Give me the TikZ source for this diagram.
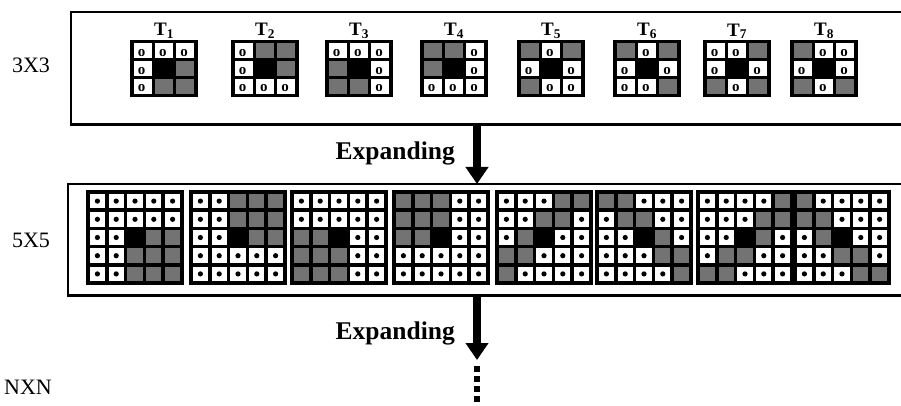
\documentclass[tikz,border=0pt]{standalone}
\usepackage{fontspec}
\setmainfont{Liberation Serif}
\usetikzlibrary{arrows.meta,positioning}

\tikzset{
  boxline/.style={line width=2.5pt},
  graycell/.style={fill=black!55},
  tlabel/.style={font=\bfseries\fontsize{19}{19}\selectfont, inner sep=1pt},
  ochar/.style={font=\bfseries\fontsize{15}{15}\selectfont, inner sep=0pt},
  sizelabel/.style={font=\fontsize{22}{22}\selectfont, inner sep=0pt},
  expandlabel/.style={font=\bfseries\fontsize{25.5}{25.5}\selectfont, inner sep=0pt},
  bigarrow/.style={line width=8pt, -{Triangle[width=22pt,length=17pt]}},
  dotcol/.style={line width=6pt, dash pattern=on 6pt off 4pt}
}

% 3x3 template: left x, index, cells (0 white, 1 gray, 2 black)
\newcommand{\smallgrid}[3]{%
  \fill (#1,40) rectangle ++(68,57);
  \node[tlabel, above] (t#2) at (#1+34,40) {T\textsubscript{#2}};
  \foreach \c [count=\k from 0] in {#3} {
    \pgfmathtruncatemacro\cellrow{\k/3}
    \pgfmathtruncatemacro\cellcol{mod(\k,3)}
    \ifnum\c=0
      \fill[white] (#1+3.5+\cellcol*21.33, 43.5+\cellrow*17.67) rectangle ++(18.3,14.7);
      \node[ochar] at (#1+11.5+\cellcol*21.33, 53+\cellrow*17.67) {o};
    \fi
    \ifnum\c=1
      \fill[graycell] (#1+3.5+\cellcol*21.33, 43.5+\cellrow*17.67) rectangle ++(18.3,14.7);
    \fi
  }
}

% 5x5 template: left x, cells
\newcommand{\biggrid}[2]{%
  \fill (#1,190) rectangle ++(98,95);
  \foreach \c [count=\k from 0] in {#2} {
    \pgfmathtruncatemacro\cellrow{\k/5}
    \pgfmathtruncatemacro\cellcol{mod(\k,5)}
    \ifnum\c=0
      \fill[white] (#1+3.8+\cellcol*18.8, 193.8+\cellrow*18.2) rectangle ++(15.2,14.6);
      \fill (#1+11.4+\cellcol*18.8, 201.1+\cellrow*18.2) circle (2.6pt);
    \fi
    \ifnum\c=1
      \fill[graycell] (#1+3.8+\cellcol*18.8, 193.8+\cellrow*18.2) rectangle ++(15.2,14.6);
    \fi
  }
}

\begin{document}
\begin{tikzpicture}[x=1pt, y=-1pt]
  \useasboundingbox (0,0) rectangle (901,406);

  % size labels
  \node[sizelabel] (l3) at (31,65) {3X3};
  \node[sizelabel] (l5) at (31,240) {5X5};
  \node[sizelabel] (ln) at (28,387) {NXN};

  % frames (open on the right)
  \node[minimum width=830pt, minimum height=112pt, anchor=north west, inner sep=0pt] (box3) at (71,12) {};
  \draw[boxline] (box3.north east) -- (box3.north west) -- (box3.south west) -- (box3.south east);
  \node[minimum width=833pt, minimum height=111pt, anchor=north west, inner sep=0pt] (box5) at (68,184) {};
  \draw[boxline] (box5.north east) -- (box5.north west) -- (box5.south west) -- (box5.south east);

  % 3x3 templates
  \smallgrid{130}{1}{0,0,0, 0,2,1, 0,1,1}
  \smallgrid{231}{2}{0,1,1, 0,2,1, 0,0,0}
  \smallgrid{325}{3}{0,0,0, 1,2,0, 1,1,0}
  \smallgrid{420}{4}{1,1,0, 1,2,0, 0,0,0}
  \smallgrid{517}{5}{1,0,1, 0,2,0, 1,0,0}
  \smallgrid{613}{6}{1,0,1, 0,2,0, 0,0,1}
  \smallgrid{703}{7}{0,0,1, 0,2,0, 1,0,1}
  \smallgrid{790}{8}{1,0,0, 0,2,0, 1,0,1}

  % 5x5 templates
  \biggrid{86}{0,0,0,0,0, 0,0,0,0,0, 0,0,2,1,1, 0,0,1,1,1, 0,0,1,1,1}
  \biggrid{189}{0,0,1,1,1, 0,0,1,1,1, 0,0,2,1,1, 0,0,0,0,0, 0,0,0,0,0}
  \biggrid{290}{0,0,0,0,0, 0,0,0,0,0, 1,1,2,0,0, 1,1,1,0,0, 1,1,1,0,0}
  \biggrid{392}{1,1,1,0,0, 1,1,1,0,0, 1,1,2,0,0, 0,0,0,0,0, 0,0,0,0,0}
  \biggrid{495}{0,0,0,1,1, 0,0,1,1,0, 0,1,2,0,0, 1,1,0,0,0, 1,0,0,0,0}
  \biggrid{595}{1,1,0,0,0, 0,1,1,0,0, 0,0,2,1,0, 0,0,0,1,1, 0,0,0,0,1}
  \biggrid{696}{0,0,0,0,1, 0,0,0,1,1, 0,0,2,1,0, 0,1,1,0,0, 1,1,0,0,0}
  \biggrid{793}{1,0,0,0,0, 1,1,0,0,0, 0,1,2,0,0, 0,0,1,1,0, 0,0,0,1,1}

  % expanding arrows
  \coordinate (arrowx) at (477,0);
  \draw[bigarrow] (box3.south -| arrowx) -- (box5.north -| arrowx);
  \node[expandlabel, anchor=east] (e1) at (455,153) {Expanding};
  \coordinate (arr2end) at (477,360);
  \draw[bigarrow] (box5.south -| arrowx) -- (arr2end);
  \node[expandlabel, anchor=east] (e2) at (455,333) {Expanding};
  \coordinate (dotsend) at (477,406);
  \draw[dotcol] ([yshift=-6pt]arr2end) -- (dotsend);
\end{tikzpicture}
\end{document}
